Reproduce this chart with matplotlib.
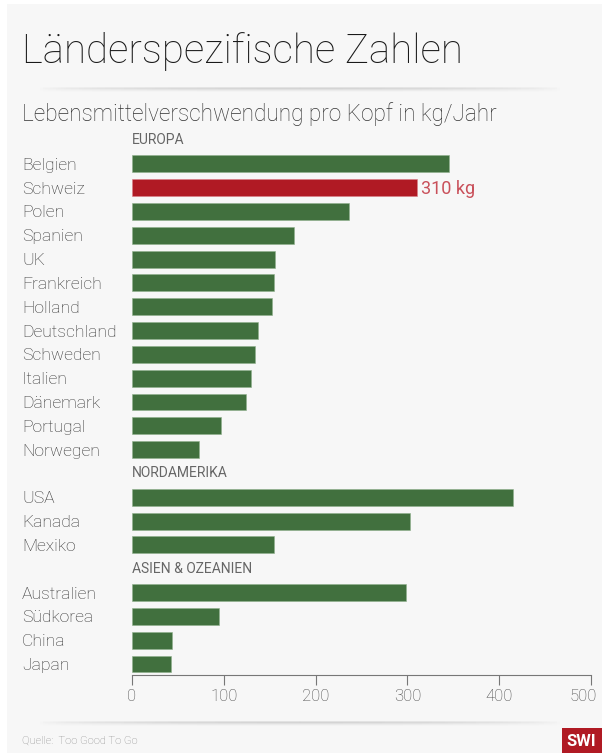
import matplotlib
matplotlib.use("Agg")
import matplotlib.pyplot as plt
import numpy as np
from matplotlib.patches import Rectangle
from matplotlib.transforms import ScaledTranslation

# ---- data ----
europe_names = ["Belgien", "Schweiz", "Polen", "Spanien", "UK", "Frankreich", "Holland",
                "Deutschland", "Schweden", "Italien", "Dänemark", "Portugal", "Norwegen"]
europe_vals = [345, 310, 236, 176, 156, 155, 152, 137, 134, 130, 124, 97, 73]
na_names = ["USA", "Kanada", "Mexiko"]
na_vals = [415, 303, 155]
asia_names = ["Australien", "Südkorea", "China", "Japan"]
asia_vals = [298, 95, 44, 43]
group_titles = ["EUROPA", "NORDAMERIKA", "ASIEN & OZEANIEN"]
highlight = "Schweiz"
highlight_label = "310 kg"
xticks = [0, 100, 200, 300, 400, 500]

title = "Länderspezifische Zahlen"
subtitle = "Lebensmittelverschwendung pro Kopf in kg/Jahr"
source = "Quelle:  Too Good To Go"

GREEN = "#41703e"
RED = "#b01a24"
BG = "#f7f7f7"

W, H = 602, 753
fig = plt.figure(figsize=(W / 100, H / 100), dpi=100)
fig.patch.set_facecolor("white")
plt.rcParams['font.family'] = ['Roboto', 'DejaVu Sans']

# card background
fig.add_artist(Rectangle((7 / W, 0), 1, 1 - 4 / H, transform=fig.transFigure,
                         facecolor=BG, edgecolor="none", zorder=-10))

def px(x, y):
    return x / W, 1 - y / H

# shadow lines
def shadow(y, x0, x1):
    n = 200
    xs = np.linspace(x0, x1, n)
    for dy, a in [(0, 0.10), (1, 0.07), (2, 0.04), (3, 0.02)]:
        for i in range(n - 1):
            t = (i + 0.5) / (n - 1)
            fade = np.sin(np.pi * t) ** 0.6
            fig.add_artist(plt.Line2D([xs[i] / W, xs[i + 1] / W], [1 - (y + dy) / H] * 2,
                                      transform=fig.transFigure, color="black",
                                      alpha=a * fade, lw=1.2, solid_capstyle="butt"))

shadow(88, 40, 560)
shadow(722, 40, 560)

fig.text(*px(22, 63), title, fontsize=29, fontweight="light", color="#1a1a1a",
         ha="left", va="baseline")
fig.text(*px(22, 121), subtitle, fontsize=16.3, fontweight="light", color="#333333",
         ha="left", va="baseline")
fig.text(*px(22, 744), source, fontsize=8, fontweight="light", color="#8a8a8a",
         ha="left", va="baseline")

# SWI logo
fig.add_artist(Rectangle(px(562, 753), 40 / W, 25 / H, transform=fig.transFigure,
                         facecolor="#b01a24", edgecolor="none"))
fig.text(*px(581, 741), "SWI", fontsize=12, fontweight="bold", color="white",
         ha="center", va="center")

# axes
slot = 23.82
y_top_slot = 140.0
axis_y = 675.0
ylim_bottom = (axis_y - y_top_slot) / slot
ylim_top = -0.6
top_px = y_top_slot + ylim_top * slot
ax = fig.add_axes([132 / W, 1 - axis_y / H, (591 - 132) / W, (axis_y - top_px) / H])
ax.set_facecolor("none")
ax.set_xlim(0, 500)
ax.set_ylim(ylim_bottom, ylim_top)

groups = [(group_titles[0], europe_names, europe_vals),
          (group_titles[1], na_names, na_vals),
          (group_titles[2], asia_names, asia_vals)]
pos = 0
for gt, names, vals in groups:
    ax.annotate(gt, xy=(0, pos), xytext=(0, -4), textcoords="offset pixels",
                fontsize=10, fontweight="normal", color="#666666", ha="left", va="baseline")
    pos += 1
    for nm, v in zip(names, vals):
        c = RED if nm == highlight else GREEN
        ax.barh(pos, v, height=0.71, color=c,
                edgecolor="#8fb08c" if c == GREEN else "#d98088",
                linewidth=0.4, align="center")
        ax.annotate(nm, xy=(0, pos), xycoords=("axes fraction", "data"),
                    xytext=(-110, -6), textcoords="offset pixels",
                    fontsize=12.6, fontweight="light", color="#333333",
                    ha="left", va="baseline")
        if nm == highlight:
            ax.annotate(highlight_label, xy=(v, pos), xytext=(4, -6), textcoords="offset pixels",
                        fontsize=13, fontweight="normal", color="#c9505a",
                        ha="left", va="baseline")
        pos += 1

for s in ["top", "right", "left"]:
    ax.spines[s].set_visible(False)
ax.spines["bottom"].set_color("#777777")
ax.spines["bottom"].set_linewidth(0.8)
ax.set_yticks([])
ax.set_xticks(xticks)
ax.set_xticklabels([str(t) for t in xticks])
ax.tick_params(axis="x", length=7, width=0.8, color="#777777", labelsize=12,
               labelcolor="#444444", pad=3)
labels = ax.get_xticklabels()
for lab in labels:
    lab.set_fontweight("light")
labels[-1].set_transform(labels[-1].get_transform() +
                         ScaledTranslation(-8 / 100, 0, fig.dpi_scale_trans))

fig.savefig("out.png", dpi=100, facecolor=fig.get_facecolor())
